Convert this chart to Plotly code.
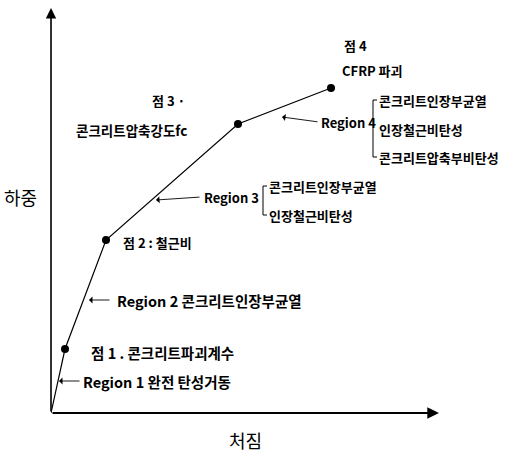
import plotly.graph_objects as go

# Idealised load-deflection curve of a CFRP-strengthened RC beam (arbitrary units)
deflection = [0, 14, 55, 187, 280]
load = [0, 64, 173, 289, 325]
point_labels = ["", "점 1", "점 2", "점 3", "점 4"]

FONT = "Noto Sans CJK KR"
BLACK = "#000000"
PLOT_W, PLOT_H = 389, 407

fig = go.Figure()

# curve
fig.add_trace(go.Scatter(
    x=deflection, y=load, mode="lines",
    line=dict(color=BLACK, width=1.2), hoverinfo="skip", showlegend=False,
))
# key points 1-4
fig.add_trace(go.Scatter(
    x=deflection[1:], y=load[1:], mode="markers", text=point_labels[1:],
    marker=dict(color=BLACK, size=8), hoverinfo="text", showlegend=False,
))

# axes drawn as arrows
fig.add_annotation(x=0, y=405, ax=0, ay=0, xref="x", yref="y", axref="x", ayref="y",
                   showarrow=True, arrowhead=2, arrowsize=1.3, arrowwidth=1.6,
                   arrowcolor=BLACK, text="")
fig.add_annotation(x=388, y=0, ax=0, ay=0, xref="x", yref="y", axref="x", ayref="y",
                   showarrow=True, arrowhead=2, arrowsize=1.3, arrowwidth=1.8,
                   arrowcolor=BLACK, text="")


def label(x, y, text, size=13, anchor="left"):
    fig.add_annotation(x=x, y=y, xref="x", yref="y", text=f"<b>{text}</b>",
                       showarrow=False, xanchor=anchor, yanchor="middle",
                       font=dict(family=FONT, size=size, color=BLACK))


def pointer(x_tip, y_tip, x_tail, y_tail):
    fig.add_annotation(x=x_tip, y=y_tip, ax=x_tail, ay=y_tail, xref="x", yref="y",
                       axref="x", ayref="y", text="", showarrow=True, arrowhead=1,
                       arrowsize=1.3, arrowwidth=0.9, arrowcolor=BLACK, standoff=0)


def bracket(x, y_top, y_bot):
    fig.add_shape(type="path", xref="x", yref="y",
                  path=f"M {x+4},{y_top} L {x},{y_top} L {x},{y_bot} L {x+4},{y_bot}",
                  line=dict(color=BLACK, width=1))


# point annotations
label(304, 368, "점 4", anchor="center")
label(289, 343, "CFRP 파괴")
label(99, 313, "점 3 ·")
label(23, 283, "콘크리트압축강도fc", size=13.5)
label(70, 171, "점 2 : 철근비")
label(38, 61, "점 1 . 콘크리트파괴계수", size=14.5)

# Region 1
pointer(8, 32, 30, 32)
label(30, 32, "Region 1 완전 탄성거동", size=14.5)
# Region 2
pointer(38, 113, 60, 113)
label(64, 113, "Region 2 콘크리트인장부균열", size=14.5)
# Region 3
pointer(105, 213, 150, 216)
label(151, 216, "Region 3")
bracket(212, 227, 198)
label(216, 227, "콘크리트인장부균열")
label(216, 198, "인장철근비탄성")
# Region 4
pointer(231, 296, 268, 291)
label(268, 291, "Region 4")
bracket(322, 313, 256)
label(326, 313, "콘크리트인장부균열")
label(326, 284, "인장철근비탄성")
label(326, 256, "콘크리트압축부비탄성")

# axis titles (paper coordinates so they sit outside the plotting area)
fig.add_annotation(x=-31 / PLOT_W, y=216 / PLOT_H, xref="paper", yref="paper",
                   text="하중", showarrow=False, xanchor="center", yanchor="middle",
                   font=dict(family=FONT, size=18, color=BLACK))
fig.add_annotation(x=194 / PLOT_W, y=-27 / PLOT_H, xref="paper", yref="paper",
                   text="처짐", showarrow=False, xanchor="center", yanchor="middle",
                   font=dict(family=FONT, size=18, color=BLACK))

fig.update_xaxes(range=[0, PLOT_W], visible=False, fixedrange=True)
fig.update_yaxes(range=[0, PLOT_H], visible=False, fixedrange=True)
fig.update_layout(
    width=506, height=456,
    margin=dict(l=51, r=66, t=6, b=43),
    plot_bgcolor="white", paper_bgcolor="white",
    showlegend=False,
)

fig.write_html("out.html")
